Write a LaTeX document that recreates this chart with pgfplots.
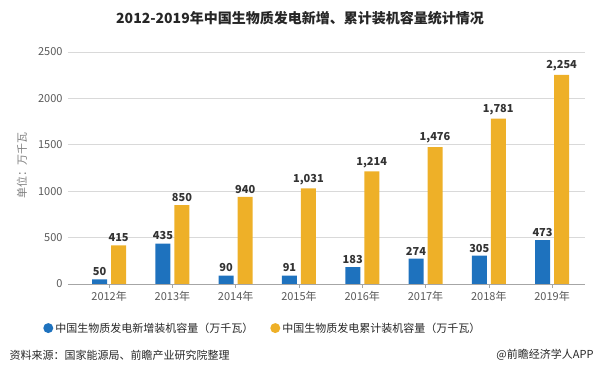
\documentclass[border=0pt]{standalone}
\usepackage{fontspec}
\setmainfont{Noto Sans CJK SC}
\usepackage{pgfplots}
\pgfplotsset{compat=1.18}
\definecolor{cblue}{RGB}{30,114,190}
\definecolor{corange}{RGB}{238,176,40}
\definecolor{tickgray}{RGB}{89,89,89}
\definecolor{gridgray}{RGB}{217,217,217}
\definecolor{axgray}{RGB}{166,166,166}
\begin{document}
\begin{tikzpicture}[x=1pt,y=1pt]
\path[use as bounding box] (0,0) rectangle (598,383);
\node[font=\fontsize{14}{16}\selectfont\bfseries, text=black!85] at (300,365) {2012-2019年中国生物质发电新增、累计装机容量统计情况};
\begin{axis}[
  at={(68pt,99pt)}, anchor=south west,
  scale only axis, width=517pt, height=232pt,
  xmin=-0.65, xmax=7.52, ymin=0, ymax=2500,
  ybar, bar width=15pt,
  xtick={0,...,7},
  xticklabels={2012年,2013年,2014年,2015年,2016年,2017年,2018年,2019年},
  ytick={0,500,1000,1500,2000,2500},
  ymajorgrids, grid style={gridgray, line width=0.6pt},
  axis x line*=bottom, axis y line*=left,
  y axis line style={draw=none},
  x axis line style={axgray, line width=0.8pt, -},
  xtick style={axgray, line width=0.6pt},
  major tick length=4pt,
  xtick align=outside,
  ytick style={draw=none},
  tick label style={font=\fontsize{11}{12}\selectfont, text=tickgray},
  yticklabel style={xshift=-2pt},
  /pgf/number format/assume math mode=true,
  /pgf/number format/1000 sep={},
  ylabel={单位：万千瓦},
  every axis y label/.style={at={(axis description cs:-0.089,0.51)}, rotate=90, anchor=center, font=\fontsize{11}{12}\selectfont, text=gray},
  nodes near coords,
  nodes near coords style={font=\fontsize{11}{12}\selectfont\bfseries, text=black!80, /pgf/number format/1000 sep={,}, /pgf/number format/assume math mode=true},
  legend style={at={(-0.054,-0.19)}, anchor=west, draw=none, fill=none, font=\fontsize{11}{12}\selectfont, text=black!85, /tikz/every even column/.append style={column sep=15pt}},
  legend columns=2,
  legend image code/.code={\fill[#1] (0.6em,0) circle (5pt);},
]
\addplot[fill=cblue, draw=none, bar shift=-9.5pt] coordinates {(0,50) (1,435) (2,90) (3,91) (4,183) (5,274) (6,305) (7,473)};
\addlegendentry{中国生物质发电新增装机容量（万千瓦）}
\addplot[fill=corange, draw=none, bar shift=9.5pt] coordinates {(0,415) (1,850) (2,940) (3,1031) (4,1214) (5,1476) (6,1781) (7,2254)};
\addlegendentry{中国生物质发电累计装机容量（万千瓦）}
\end{axis}
\node[anchor=west, font=\fontsize{11}{12}\selectfont, text=black!85] at (6,28) {资料来源：国家能源局、前瞻产业研究院整理};
\node[anchor=east, font=\fontsize{11}{12}\selectfont, text=black!85] at (597,28) {@前瞻经济学人APP};
\end{tikzpicture}
\end{document}
